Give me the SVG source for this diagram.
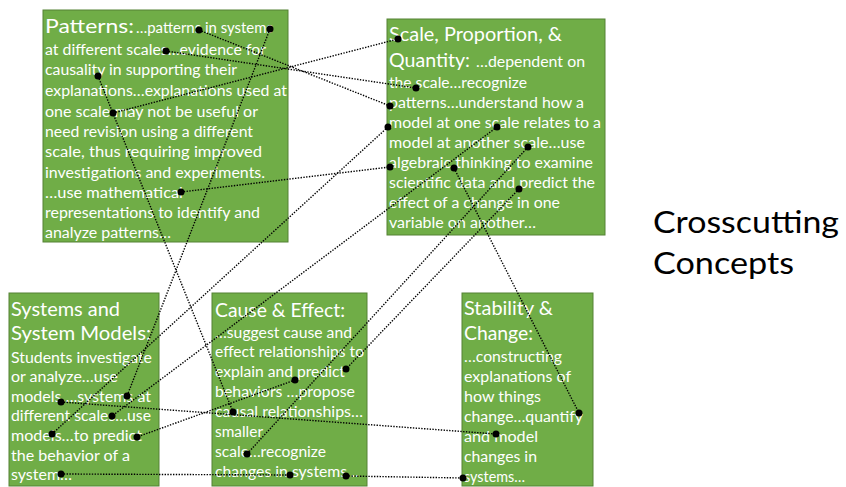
<svg xmlns="http://www.w3.org/2000/svg" width="846" height="487" viewBox="0 0 846 487">
<style>
.box{fill:#70AD47;stroke:#548235;stroke-width:1}
.t{font-family:Lato,"Liberation Sans",sans-serif;fill:#fff;font-size:14.5px}
.h{font-family:Lato,"Liberation Sans",sans-serif;fill:#fff;font-size:19px}
.c{stroke:#000;stroke-width:1.4;stroke-dasharray:1.4 1.4;fill:none}
.d{fill:#000}
.title{font-family:Lato,"Liberation Sans",sans-serif;fill:#000;font-size:30px}
</style>
<rect width="846" height="487" fill="#fff"/>
<g id="patterns">
<rect class="box" x="43" y="10" width="245" height="232"/>
<text class="h" x="45" y="33" textLength="89" lengthAdjust="spacingAndGlyphs">Patterns:</text>
<text class="t" x="136" y="33" textLength="137" lengthAdjust="spacingAndGlyphs">…patterns in systems</text>
<text class="t" x="45" y="55" textLength="221" lengthAdjust="spacingAndGlyphs">at different scales…evidence for</text>
<text class="t" x="45" y="75" textLength="192" lengthAdjust="spacingAndGlyphs">causality in supporting their</text>
<text class="t" x="45" y="96" textLength="242" lengthAdjust="spacingAndGlyphs">explanations…explanations used at</text>
<text class="t" x="45" y="117" textLength="213" lengthAdjust="spacingAndGlyphs">one scale may not be useful or</text>
<text class="t" x="45" y="137" textLength="208" lengthAdjust="spacingAndGlyphs">need revision using a different</text>
<text class="t" x="45" y="157" textLength="217" lengthAdjust="spacingAndGlyphs">scale, thus requiring improved</text>
<text class="t" x="45" y="178" textLength="220" lengthAdjust="spacingAndGlyphs">investigations and experiments.</text>
<text class="t" x="45" y="198" textLength="138" lengthAdjust="spacingAndGlyphs">…use mathematical</text>
<text class="t" x="45" y="218" textLength="215" lengthAdjust="spacingAndGlyphs">representations to identify and</text>
<text class="t" x="45" y="238" textLength="126" lengthAdjust="spacingAndGlyphs">analyze patterns…</text>
</g>
<g id="scale">
<rect class="box" x="387" y="19" width="218" height="216"/>
<text class="h" x="389" y="41" textLength="173" lengthAdjust="spacingAndGlyphs">Scale, Proportion, &amp;</text>
<text class="h" x="389" y="67" textLength="81" lengthAdjust="spacingAndGlyphs">Quantity:</text>
<text class="t" x="476" y="67" textLength="109" lengthAdjust="spacingAndGlyphs">…dependent on</text>
<text class="t" x="389" y="88" textLength="138" lengthAdjust="spacingAndGlyphs">the scale…recognize</text>
<text class="t" x="389" y="108" textLength="195" lengthAdjust="spacingAndGlyphs">patterns…understand how a</text>
<text class="t" x="389" y="128" textLength="212" lengthAdjust="spacingAndGlyphs">model at one scale relates to a</text>
<text class="t" x="389" y="148" textLength="196" lengthAdjust="spacingAndGlyphs">model at another scale…use</text>
<text class="t" x="389" y="168" textLength="204" lengthAdjust="spacingAndGlyphs">algebraic thinking to examine</text>
<text class="t" x="389" y="188" textLength="206" lengthAdjust="spacingAndGlyphs">scientific data and predict the</text>
<text class="t" x="389" y="208" textLength="171" lengthAdjust="spacingAndGlyphs">effect of a change in one</text>
<text class="t" x="389" y="228" textLength="147" lengthAdjust="spacingAndGlyphs">variable on another…</text>
</g>
<g id="systems">
<rect class="box" x="9" y="293" width="150" height="193"/>
<text class="h" x="11" y="316" textLength="109" lengthAdjust="spacingAndGlyphs">Systems and</text>
<text class="h" x="11" y="340" textLength="140" lengthAdjust="spacingAndGlyphs">System Models:</text>
<text class="t" x="11" y="363" textLength="141" lengthAdjust="spacingAndGlyphs">Students investigate</text>
<text class="t" x="11" y="382" textLength="107" lengthAdjust="spacingAndGlyphs">or analyze…use</text>
<text class="t" x="11" y="402" textLength="140" lengthAdjust="spacingAndGlyphs">models….systems at</text>
<text class="t" x="11" y="421" textLength="140" lengthAdjust="spacingAndGlyphs">different scales…use</text>
<text class="t" x="11" y="441" textLength="131" lengthAdjust="spacingAndGlyphs">models…to predict</text>
<text class="t" x="11" y="461" textLength="119" lengthAdjust="spacingAndGlyphs">the behavior of a</text>
<text class="t" x="11" y="480" textLength="61" lengthAdjust="spacingAndGlyphs">system…</text>
</g>
<g id="cause">
<rect class="box" x="212" y="293" width="155" height="193"/>
<text class="h" x="215" y="317" textLength="130" lengthAdjust="spacingAndGlyphs">Cause &amp; Effect:</text>
<text class="t" x="215" y="338" textLength="137" lengthAdjust="spacingAndGlyphs">…suggest cause and</text>
<text class="t" x="215" y="357" textLength="149" lengthAdjust="spacingAndGlyphs">effect relationships to</text>
<text class="t" x="215" y="377" textLength="130" lengthAdjust="spacingAndGlyphs">explain and predict</text>
<text class="t" x="215" y="397" textLength="140" lengthAdjust="spacingAndGlyphs">behaviors …propose</text>
<text class="t" x="215" y="417" textLength="148" lengthAdjust="spacingAndGlyphs">causal relationships…</text>
<text class="t" x="215" y="437" textLength="48" lengthAdjust="spacingAndGlyphs">smaller</text>
<text class="t" x="215" y="457" textLength="111" lengthAdjust="spacingAndGlyphs">scale…recognize</text>
<text class="t" x="215" y="477" textLength="144" lengthAdjust="spacingAndGlyphs">changes in systems…</text>
</g>
<g id="stability">
<rect class="box" x="462" y="293" width="131" height="193"/>
<text class="h" x="464" y="315" textLength="89" lengthAdjust="spacingAndGlyphs">Stability &amp;</text>
<text class="h" x="464" y="340" textLength="69" lengthAdjust="spacingAndGlyphs">Change:</text>
<text class="t" x="464" y="362" textLength="98" lengthAdjust="spacingAndGlyphs">…constructing</text>
<text class="t" x="464" y="382" textLength="107" lengthAdjust="spacingAndGlyphs">explanations of</text>
<text class="t" x="464" y="402" textLength="77" lengthAdjust="spacingAndGlyphs">how things</text>
<text class="t" x="464" y="422" textLength="119" lengthAdjust="spacingAndGlyphs">change…quantify</text>
<text class="t" x="464" y="442" textLength="74" lengthAdjust="spacingAndGlyphs">and model</text>
<text class="t" x="464" y="462" textLength="73" lengthAdjust="spacingAndGlyphs">changes in</text>
<text class="t" x="464" y="482" textLength="61" lengthAdjust="spacingAndGlyphs">systems…</text>
</g>
<g id="title">
<text class="title" x="653" y="233" textLength="186" lengthAdjust="spacingAndGlyphs">Crosscutting</text>
<text class="title" x="653" y="274" textLength="141" lengthAdjust="spacingAndGlyphs">Concepts</text>
</g>
<g id="connectors">
<line class="c" x1="199" y1="30" x2="390" y2="106"/>
<line class="c" x1="166" y1="51" x2="416" y2="88"/>
<line class="c" x1="113" y1="113" x2="398" y2="39"/>
<line class="c" x1="181" y1="192" x2="390" y2="167"/>
<line class="c" x1="270" y1="29" x2="127" y2="396"/>
<line class="c" x1="98" y1="76" x2="233" y2="412"/>
<line class="c" x1="388" y1="127" x2="52" y2="434"/>
<line class="c" x1="497" y1="127" x2="112" y2="416"/>
<line class="c" x1="528" y1="147" x2="247" y2="454"/>
<line class="c" x1="519" y1="189" x2="346" y2="369"/>
<line class="c" x1="454" y1="168" x2="579" y2="413"/>
<line class="c" x1="295" y1="380" x2="137" y2="437"/>
<line class="c" x1="61" y1="402" x2="496" y2="434"/>
<line class="c" x1="61" y1="474" x2="290" y2="475"/>
<line class="c" x1="346" y1="476" x2="463" y2="478"/>
<g class="d">
<circle cx="199" cy="30" r="3.5"/><circle cx="270" cy="29" r="3.5"/><circle cx="166" cy="51" r="3.5"/>
<circle cx="98" cy="76" r="3.5"/><circle cx="113" cy="113" r="3.5"/><circle cx="181" cy="192" r="3.5"/>
<circle cx="398" cy="39" r="3.5"/><circle cx="416" cy="88" r="3.5"/><circle cx="390" cy="106" r="3.5"/>
<circle cx="388" cy="127" r="3.5"/><circle cx="497" cy="127" r="3.5"/><circle cx="528" cy="147" r="3.5"/>
<circle cx="390" cy="167" r="3.5"/><circle cx="454" cy="168" r="3.5"/><circle cx="519" cy="189" r="3.5"/>
<circle cx="61" cy="402" r="3.5"/><circle cx="127" cy="396" r="3.5"/><circle cx="112" cy="416" r="3.5"/>
<circle cx="52" cy="434" r="3.5"/><circle cx="137" cy="437" r="3.5"/><circle cx="61" cy="474" r="3.5"/>
<circle cx="346" cy="369" r="3.5"/><circle cx="295" cy="380" r="3.5"/><circle cx="233" cy="412" r="3.5"/>
<circle cx="247" cy="454" r="3.5"/><circle cx="290" cy="475" r="3.5"/><circle cx="346" cy="476" r="3.5"/>
<circle cx="579" cy="413" r="3.5"/><circle cx="496" cy="434" r="3.5"/><circle cx="463" cy="478" r="3.5"/>
</g>
</g>
</svg>
